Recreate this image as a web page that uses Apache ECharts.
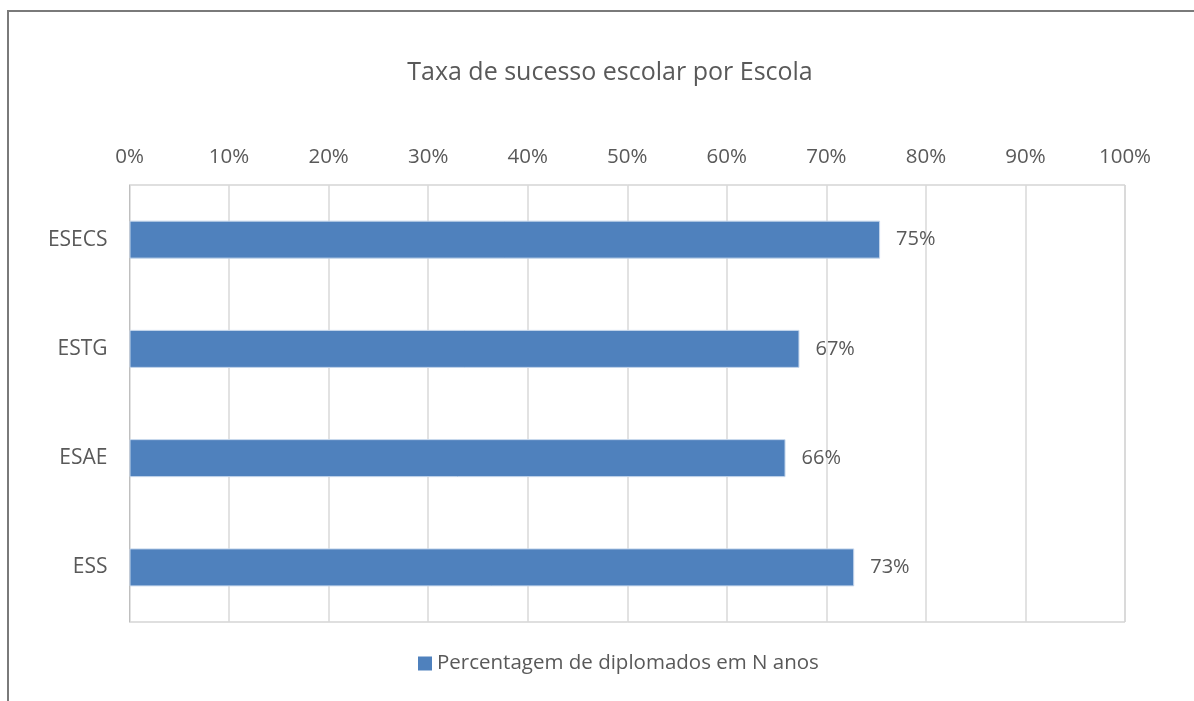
<!DOCTYPE html>
<html><head><meta charset="utf-8">
<script src="https://cdn.jsdelivr.net/npm/echarts@6/dist/echarts.min.js"></script>
<style>
html,body{margin:0;padding:0;background:#fff;overflow:hidden}
#frame{position:absolute;left:7px;top:10px;width:1300px;height:800px;border-left:2px solid #7a7a7a;border-top:2px solid #7a7a7a}
#c{position:absolute;left:0;top:0;width:1194px;height:701px}
</style></head>
<body>
<div id="frame"></div>
<div id="c"></div>
<script>
const categories = ['ESECS','ESTG','ESAE','ESS'];
const values = [75.4, 67.3, 65.9, 72.8];
const seriesName = 'Percentagem de diplomados em N anos';
const titleText = 'Taxa de sucesso escolar por Escola';

const font = '"Open Sans", "Liberation Sans", sans-serif';
const chart = echarts.init(document.getElementById('c'));
chart.setOption({
  animation:false,
  title:{text:titleText,left:605,textAlign:'center',top:55,textStyle:{fontFamily:font,fontSize:25,fontWeight:'normal',color:'#595959'}},
  legend:{bottom:22,left:413,itemWidth:14,itemHeight:14,icon:'rect',itemGap:10,
    itemStyle:{borderWidth:0},
    textStyle:{fontFamily:font,fontSize:20.5,color:'#595959'},data:[seriesName]},
  grid:{left:129.5,right:69,top:185,bottom:79,show:true,borderColor:'#bfbfbf',borderWidth:1},
  xAxis:{type:'value',position:'top',min:0,max:100,interval:10,
    axisLabel:{formatter:'{value}%',fontFamily:font,fontSize:20.5,color:'#595959',margin:17},
    axisLine:{show:false},axisTick:{show:false},
    splitLine:{lineStyle:{color:'#d9d9d9',width:1.5}}},
  yAxis:{type:'category',inverse:true,data:categories,
    axisLabel:{fontFamily:font,fontSize:21,color:'#595959',margin:22},
    axisLine:{show:true,lineStyle:{color:'#bfbfbf'}},axisTick:{show:false}},
  series:[{name:seriesName,type:'bar',data:values,barWidth:38,
    itemStyle:{color:'#4f81bd',borderColor:'#c6d7ec',borderWidth:1},
    label:{show:true,position:'right',distance:16,fontFamily:font,fontSize:20,color:'#595959',
      formatter:p=>Math.round(p.value)+'%'}}]
});
</script>
</body></html>
